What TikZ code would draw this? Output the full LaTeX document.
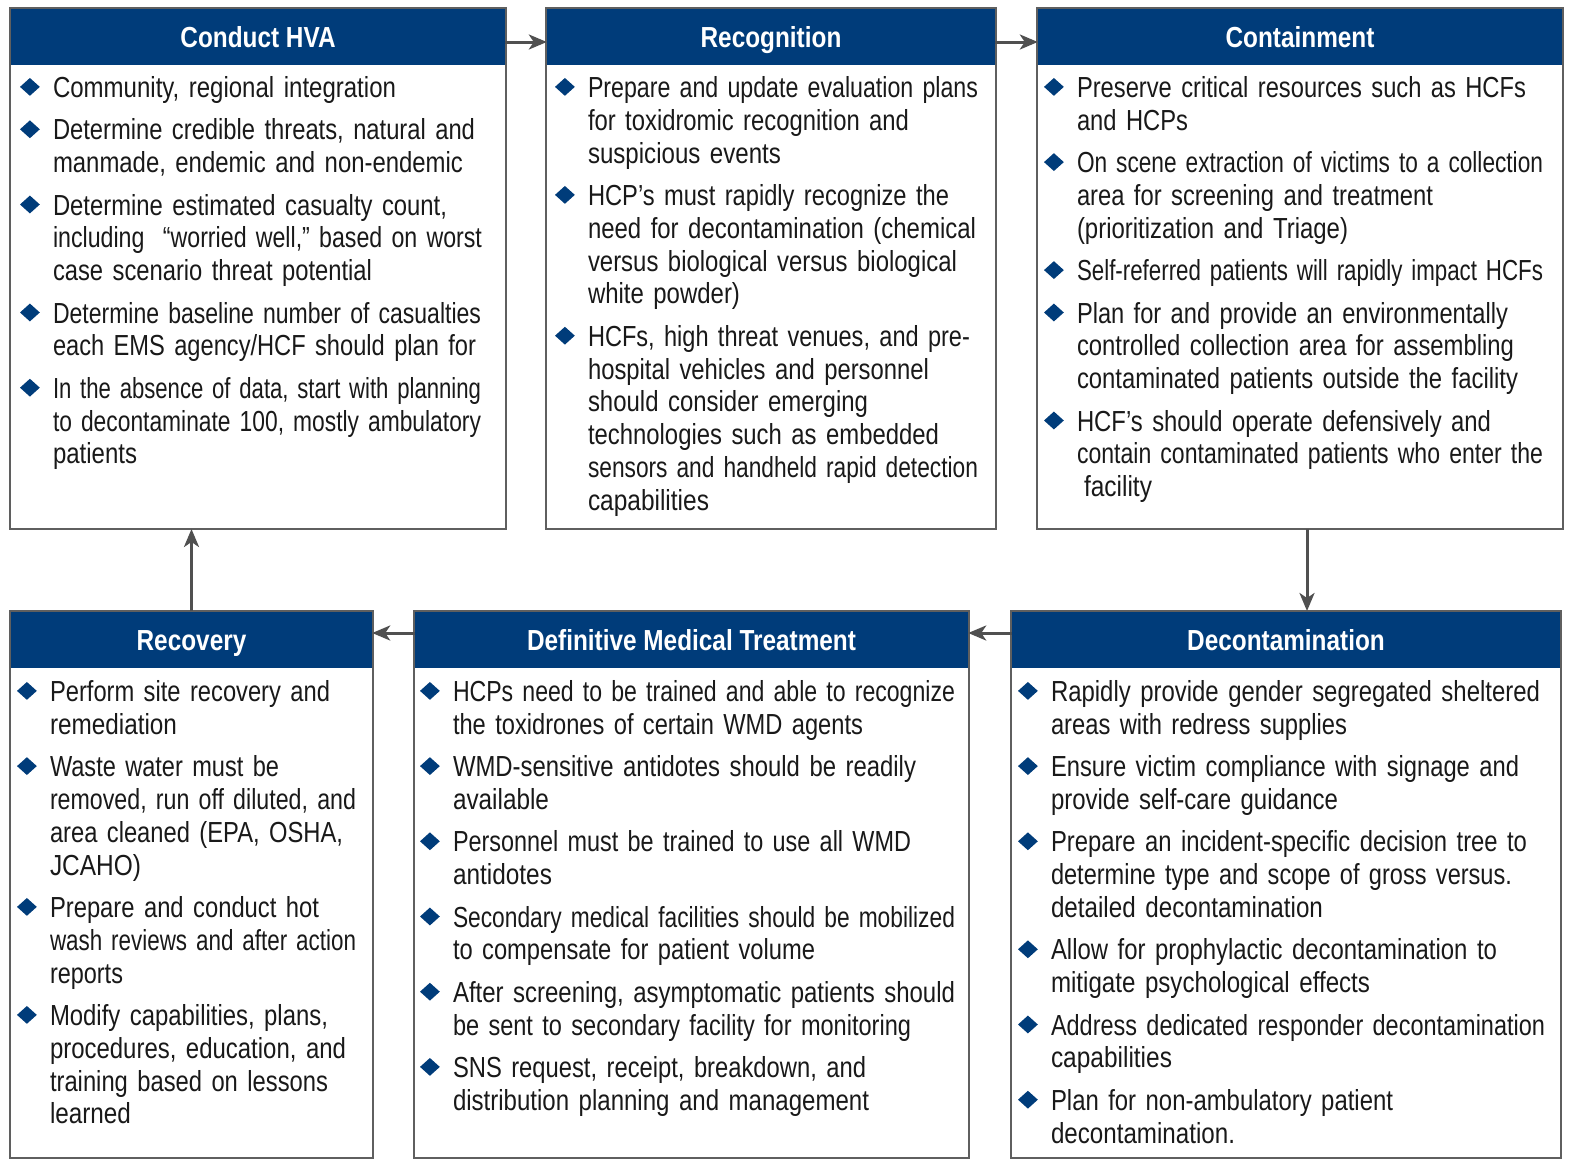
\documentclass[tikz,border=0pt]{standalone}
\usepackage{fontspec}
\setmainfont{Liberation Sans}[FakeStretch=0.84]
\usetikzlibrary{arrows.meta}
\definecolor{navy}{RGB}{0,60,122}
\definecolor{edge}{RGB}{95,95,95}
\definecolor{arrowc}{RGB}{80,80,80}
\definecolor{txt}{RGB}{25,25,25}
\newcommand\dia{\raisebox{1.6pt}{\scalebox{1}[0.9]{\rotatebox{45}{\textcolor{navy}{\rule{14pt}{14pt}}}}}}
\newcommand\itm[1]{\par\hangindent=33pt\hangafter=1\noindent\strut\makebox[33pt][l]{\dia}#1\par}
\newcommand\fl[2]{\resizebox{#1pt}{\height}{#2}}
\begin{document}
\begin{tikzpicture}[x=1pt,y=-1pt,
  outer/.style={draw=edge, line width=1.6pt, fill=white, inner sep=0pt, outer sep=0pt},
  hdr/.style={fill=navy, text=white, font=\fontsize{29}{33}\selectfont\bfseries, inner sep=0pt, outer sep=0pt, minimum height=56pt, text height=21pt, text depth=0pt},
  body/.style={anchor=north west, inner sep=0pt, outer sep=0pt, text width=560pt, font=\fontsize{29}{32.8}\selectfont, text=txt},
  arr/.style={draw=arrowc, line width=3pt, -{Stealth[length=18pt,width=15pt,inset=5pt]}}
]
\useasboundingbox[fill=white] (0,0) rectangle (1570,1159);

% top row boxes
\node[outer, minimum width=496pt, minimum height=521pt] (b1) at (258,268.5) {};
\node[outer, minimum width=450pt, minimum height=521pt] (b2) at (771,268.5) {};
\node[outer, minimum width=526pt, minimum height=521pt] (b3) at (1300,268.5) {};
% bottom row boxes
\node[outer, minimum width=363pt, minimum height=547pt] (b4) at (191.5,884.5) {};
\node[outer, minimum width=555pt, minimum height=547pt] (b5) at (691.5,884.5) {};
\node[outer, minimum width=550pt, minimum height=547pt] (b6) at (1286,884.5) {};

% headers
\node[hdr, minimum width=494.4pt] (h1) at (258,36.5) {Conduct HVA};
\node[hdr, minimum width=448.4pt] (h2) at (771,36.5) {Recognition};
\node[hdr, minimum width=524.4pt] (h3) at (1300,36.5) {Containment};
\node[hdr, minimum width=361.4pt] (h4) at (191.5,639.5) {Recovery};
\node[hdr, minimum width=553.4pt] (h5) at (691.5,639.5) {Definitive Medical Treatment};
\node[hdr, minimum width=548.4pt] (h6) at (1286,639.5) {Decontamination};

% bodies
\node[body] (t1) at (20,55) {\setlength\parskip{9.6pt}%
\itm{\fl{343}{Community, regional integration}}
\itm{\fl{422}{Determine credible threats, natural and}\newline \fl{410}{manmade, endemic and non-endemic}}
\itm{\fl{394}{Determine estimated casualty count,}\newline \fl{429}{including\ \ “worried well,” based on worst}\newline \fl{319}{case scenario threat potential}}
\itm{\fl{428}{Determine baseline number of casualties}\newline \fl{423}{each EMS agency/HCF should plan for}}
\itm{\fl{428}{In the absence of data, start with planning}\newline \fl{428}{to decontaminate 100, mostly ambulatory}\newline \fl{84}{patients}}};

\node[body] (t2) at (555,55) {\setlength\parskip{9.6pt}%
\itm{\fl{390}{Prepare and update evaluation plans}\newline \fl{321}{for toxidromic recognition and}\newline \fl{193}{suspicious events}}
\itm{\fl{361}{HCP’s must rapidly recognize the}\newline \fl{388}{need for decontamination (chemical}\newline \fl{369}{versus biological versus biological}\newline \fl{152}{white powder)}}
\itm{\fl{382}{HCFs, high threat venues, and pre-}\newline \fl{341}{hospital vehicles and personnel}\newline \fl{280}{should consider emerging}\newline \fl{351}{technologies such as embedded}\newline \fl{390}{sensors and handheld rapid detection}\newline \fl{121}{capabilities}}};

\node[body] (t3) at (1044,55) {\setlength\parskip{9.6pt}%
\itm{\fl{449}{Preserve critical resources such as HCFs}\newline \fl{111}{and HCPs}}
\itm{\fl{466}{On scene extraction of victims to a collection}\newline \fl{356}{area for screening and treatment}\newline \fl{271}{(prioritization and Triage)}}
\itm{\fl{466}{Self-referred patients will rapidly impact HCFs}}
\itm{\fl{431}{Plan for and provide an environmentally}\newline \fl{437}{controlled collection area for assembling}\newline \fl{441}{contaminated patients outside the facility}}
\itm{\fl{414}{HCF’s should operate defensively and}\newline \fl{466}{contain contaminated patients who enter the}\newline \hspace*{7pt}\fl{68}{facility}}};

\node[body] (t4) at (17,659) {\setlength\parskip{9.6pt}%
\itm{\fl{280}{Perform site recovery and}\newline \fl{127}{remediation}}
\itm{\fl{229}{Waste water must be}\newline \fl{306}{removed, run off diluted, and}\newline \fl{293}{area cleaned (EPA, OSHA,}\newline \fl{91}{JCAHO)}}
\itm{\fl{269}{Prepare and conduct hot}\newline \fl{306}{wash reviews and after action}\newline \fl{73}{reports}}
\itm{\fl{278}{Modify capabilities, plans,}\newline \fl{296}{procedures, education, and}\newline \fl{278}{training based on lessons}\newline \fl{81}{learned}}};

\node[body] (t5) at (420,659) {\setlength\parskip{9.6pt}%
\itm{\fl{502}{HCPs need to be trained and able to recognize}\newline \fl{410}{the toxidrones of certain WMD agents}}
\itm{\fl{463}{WMD-sensitive antidotes should be readily}\newline \fl{96}{available}}
\itm{\fl{458}{Personnel must be trained to use all WMD}\newline \fl{99}{antidotes}}
\itm{\fl{502}{Secondary medical facilities should be mobilized}\newline \fl{362}{to compensate for patient volume}}
\itm{\fl{502}{After screening, asymptomatic patients should}\newline \fl{458}{be sent to secondary facility for monitoring}}
\itm{\fl{413}{SNS request, receipt, breakdown, and}\newline \fl{416}{distribution planning and management}}};

\node[body] (t6) at (1018,659) {\setlength\parskip{9.6pt}%
\itm{\fl{489}{Rapidly provide gender segregated sheltered}\newline \fl{296}{areas with redress supplies}}
\itm{\fl{468}{Ensure victim compliance with signage and}\newline \fl{287}{provide self-care guidance}}
\itm{\fl{476}{Prepare an incident-specific decision tree to}\newline \fl{461}{determine type and scope of gross versus.}\newline \fl{272}{detailed decontamination}}
\itm{\fl{446}{Allow for prophylactic decontamination to}\newline \fl{319}{mitigate psychological effects}}
\itm{\fl{494}{Address dedicated responder decontamination}\newline \fl{121}{capabilities}}
\itm{\fl{342}{Plan for non-ambulatory patient}\newline \fl{184}{decontamination.}}};

% connectors
\draw[arr] ([yshift=-5.5pt]h1.east) -- ([yshift=-5.5pt]h2.west);
\draw[arr] ([yshift=-5.5pt]h2.east) -- ([yshift=-5.5pt]h3.west);
\draw[arr] ([xshift=7pt]b3.south) -- ([xshift=21pt]b6.north);
\draw[arr] ([yshift=6.5pt]h6.west) -- ([yshift=6.5pt]h5.east);
\draw[arr] ([yshift=6.5pt]h5.west) -- ([yshift=6.5pt]h4.east);
\draw[arr] (b4.north) -- (b4.north |- b1.south);
\end{tikzpicture}
\end{document}
